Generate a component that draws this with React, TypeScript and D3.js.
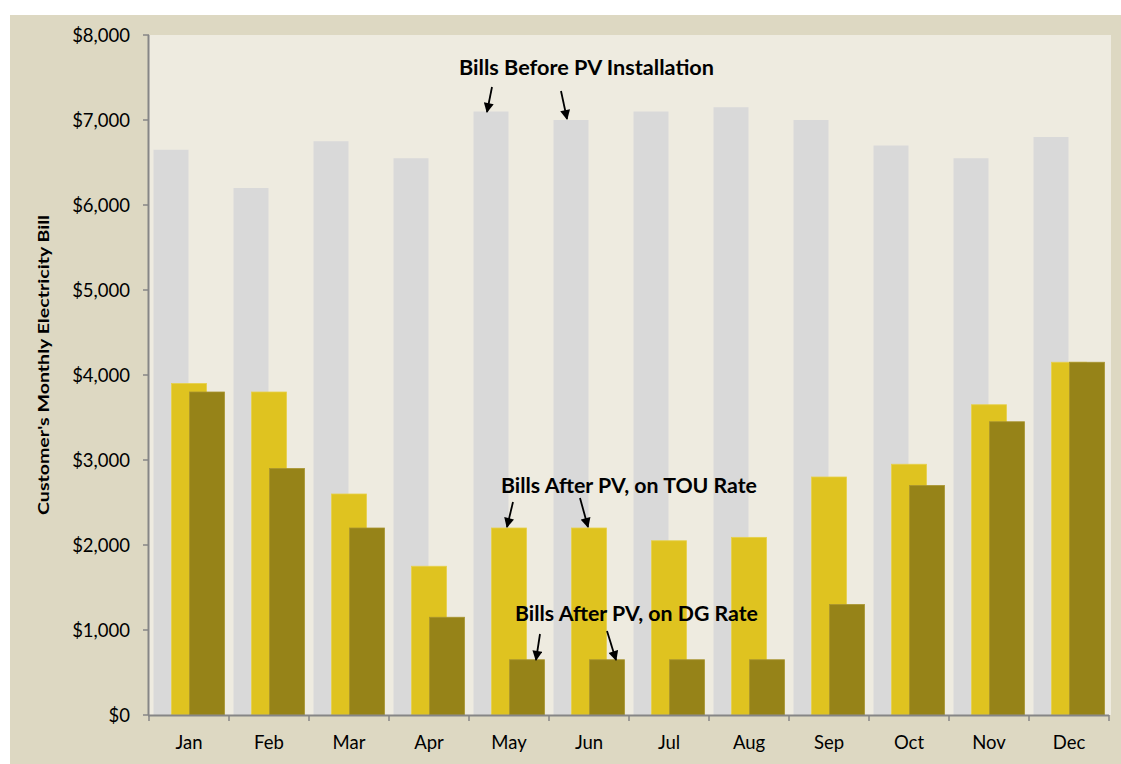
import React from "react";
import * as d3 from "d3";

const months = ["Jan", "Feb", "Mar", "Apr", "May", "Jun", "Jul", "Aug", "Sep", "Oct", "Nov", "Dec"];
const beforePV = [6650, 6200, 6750, 6550, 7100, 7000, 7100, 7150, 7000, 6700, 6550, 6800];
const afterTOU = [3900, 3800, 2600, 1750, 2200, 2200, 2050, 2090, 2800, 2950, 3650, 4150];
const afterDG = [3800, 2900, 2200, 1150, 650, 650, 650, 650, 1300, 2700, 3450, 4150];
const yTicks = [0, 1000, 2000, 3000, 4000, 5000, 6000, 7000, 8000];

const W = 1121;
const H = 764;
const FONT = "Lato, 'Open Sans', sans-serif";

export default function App() {
  const x0 = 149, x1 = 1109, yTop = 35, yBot = 715;
  const x = d3.scaleBand<string>().domain(months).range([x0, x1]).padding(0);
  const y = d3.scaleLinear().domain([0, 8000]).range([yBot, yTop]);
  const bw = 35;
  const step = 18;
  const groupW = bw + 2 * step;
  const off = (x.bandwidth() - groupW) / 2;
  const fmt = (v: number) => "$" + d3.format(",")(v);

  const series = [
    { data: beforePV, color: "#D9D9D9", stroke: "none", idx: 0 },
    { data: afterTOU, color: "#DFC320", stroke: "#E6D04A", idx: 1 },
    { data: afterDG, color: "#968318", stroke: "#A89530", idx: 2 },
  ];

  const arrow = (x1a: number, y1a: number, x2a: number, y2a: number, key: string) => (
    <line key={key} x1={x1a} y1={y1a} x2={x2a} y2={y2a} stroke="#000" strokeWidth={1.8} markerEnd="url(#arr)" />
  );

  return (
    <svg width={W} height={H} style={{ position: "absolute", left: 0, top: 0 }} fontFamily={FONT}>
      <defs>
        <marker id="arr" viewBox="0 0 10 10" refX="9" refY="5" markerWidth="11" markerHeight="10" orient="auto" markerUnits="userSpaceOnUse">
          <path d="M0,0 L10,5 L0,10 z" fill="#000" />
        </marker>
      </defs>
      <rect x={0} y={0} width={W} height={H} fill="#fff" />
      <rect x={10} y={15} width={W - 10} height={H - 15} fill="#DDD8C2" />
      <rect x={x0} y={yTop} width={1111 - x0} height={yBot - yTop} fill="#EEEBE0" />

      {series.map((s) =>
        months.map((m, i) => {
          const bx = (x(m) as number) + off + s.idx * step;
          const by = y(s.data[i]);
          return (
            <rect
              key={s.idx + "-" + m}
              x={bx}
              y={by}
              width={bw}
              height={yBot - by}
              fill={s.color}
              stroke={s.stroke}
              strokeWidth={s.stroke === "none" ? 0 : 0.8}
            />
          );
        })
      )}

      {/* Y axis */}
      <line x1={x0 - 0.5} y1={yTop} x2={x0 - 0.5} y2={yBot} stroke="#868686" strokeWidth={2} />
      {yTicks.map((t) => (
        <g key={t}>
          <line x1={x0 - 6} x2={x0} y1={y(t)} y2={y(t)} stroke="#868686" strokeWidth={1.5} />
          <text x={130} y={y(t)} dy="0.36em" textAnchor="end" fontSize={18.5} fill="#000">
            {fmt(t)}
          </text>
        </g>
      ))}

      {/* X axis */}
      <line x1={x0 - 1} y1={yBot + 0.5} x2={x1} y2={yBot + 0.5} stroke="#868686" strokeWidth={2} />
      {[...months.map((m) => x(m) as number), x1].map((p, i) => (
        <line key={"xt" + i} x1={p} x2={p} y1={yBot} y2={yBot + 6} stroke="#868686" strokeWidth={1.5} />
      ))}
      {months.map((m) => (
        <text key={"xl" + m} x={(x(m) as number) + x.bandwidth() / 2} y={749} textAnchor="middle" fontSize={18.5} fill="#000">
          {m}
        </text>
      ))}

      {/* Y title */}
      <text
        transform={`translate(49, 365) rotate(-90)`}
        textAnchor="middle"
        fontSize={15}
        fontWeight="bold"
        fill="#000"
        textLength={300}
        lengthAdjust="spacingAndGlyphs"
      >
        Customer's Monthly Electricity Bill
      </text>

      {/* Annotations */}
      <text x={459} y={75} fontSize={20} fontWeight="bold" fill="#000" textLength={255} lengthAdjust="spacingAndGlyphs">
        Bills Before PV Installation
      </text>
      {arrow(492, 87, 487, 112, "a1")}
      {arrow(561, 91, 567, 119, "a2")}

      <text x={501} y={493} fontSize={20} fontWeight="bold" fill="#000" textLength={256} lengthAdjust="spacingAndGlyphs">
        Bills After PV, on TOU Rate
      </text>
      {arrow(513, 502, 507, 527, "a3")}
      {arrow(580, 498, 588, 527, "a4")}

      <text x={515} y={621} fontSize={20} fontWeight="bold" fill="#000" textLength={243} lengthAdjust="spacingAndGlyphs">
        Bills After PV, on DG Rate
      </text>
      {arrow(540, 634, 536, 660, "a5")}
      {arrow(607, 631, 616, 660, "a6")}
    </svg>
  );
}
